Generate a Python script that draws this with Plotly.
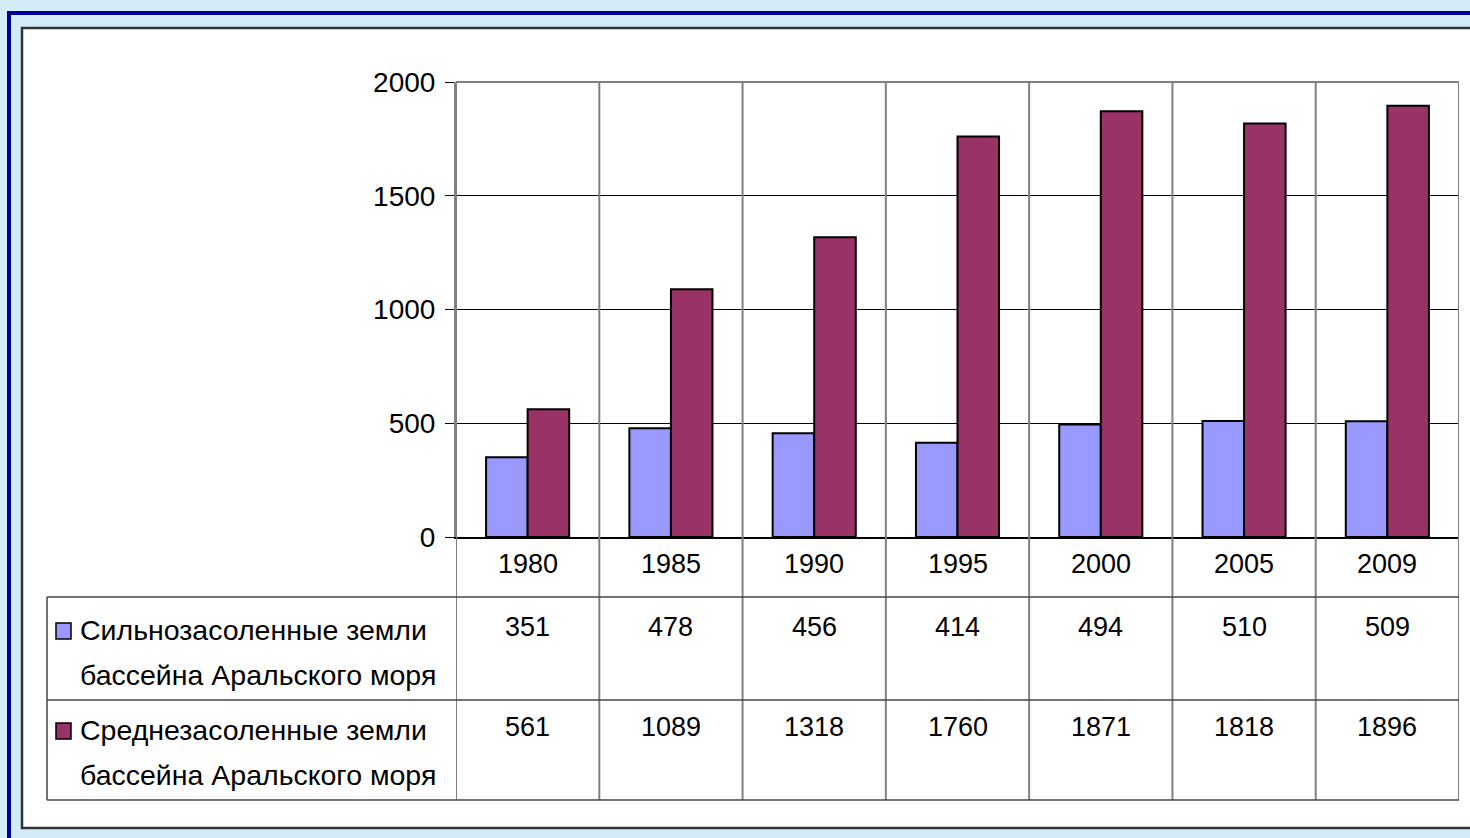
import plotly.graph_objects as go

# Salinised land in the Aral Sea basin, by year
years = ["1980", "1985", "1990", "1995", "2000", "2005", "2009"]
strong_saline = [351, 478, 456, 414, 494, 510, 509]
medium_saline = [561, 1089, 1318, 1760, 1871, 1818, 1896]
series_names = [
    ["Сильнозасоленные земли", "бассейна Аральского моря"],
    ["Среднезасоленные земли", "бассейна Аральского моря"],
]
series_colors = ["#9999FF", "#993366"]
y_ticks = [0, 500, 1000, 1500, 2000]

W, H = 1470, 838
FONT = "Liberation Sans, Arial, sans-serif"
FS_TICK = 28
FS_CELL = 27
FS_NAME = 28.5


def px(x):
    return x / W


def py(y):
    return 1 - y / H


# plot rectangle in pixels
PL, PR, PT, PB = 456, 1459, 82, 537
# data-table rows in pixels
ROW_YEAR_BOTTOM, ROW1_BOTTOM, ROW2_BOTTOM = 597, 700, 800
TABLE_LEFT = 47

fig = go.Figure()
for name, vals, col in zip(series_names, [strong_saline, medium_saline], series_colors):
    fig.add_trace(go.Bar(
        x=years, y=vals, name=" ".join(name),
        marker=dict(color=col, line=dict(color="black", width=2)),
        showlegend=False,
    ))

shapes = []
# slide backdrop: dark blue frame and white panel
shapes.append(dict(type="rect", xref="paper", yref="paper",
                   x0=px(9), x1=px(1520), y0=py(13), y1=py(900),
                   line=dict(color="#000099", width=4), fillcolor="rgba(0,0,0,0)", layer="below"))
shapes.append(dict(type="rect", xref="paper", yref="paper",
                   x0=px(22), x1=px(1500), y0=py(28), y1=py(828),
                   line=dict(color="#333333", width=2.5), fillcolor="white", layer="below"))

grey = "#808080"
# vertical category boundaries through plot and table
for i in range(len(years) + 1):
    shapes.append(dict(type="line", xref="x", yref="paper",
                       x0=i - 0.5, x1=i - 0.5, y0=py(PT), y1=py(ROW2_BOTTOM),
                       line=dict(color=grey, width=2)))
# top border of plot
shapes.append(dict(type="line", xref="paper", yref="paper",
                   x0=px(PL), x1=px(PR), y0=py(PT), y1=py(PT),
                   line=dict(color=grey, width=2)))
# table horizontal rules
for yy in (ROW_YEAR_BOTTOM, ROW1_BOTTOM, ROW2_BOTTOM):
    shapes.append(dict(type="line", xref="paper", yref="paper",
                       x0=px(TABLE_LEFT), x1=px(PR), y0=py(yy), y1=py(yy),
                       line=dict(color="#444444", width=1.5)))
# table left edge
shapes.append(dict(type="line", xref="paper", yref="paper",
                   x0=px(TABLE_LEFT), x1=px(TABLE_LEFT), y0=py(ROW_YEAR_BOTTOM), y1=py(ROW2_BOTTOM),
                   line=dict(color="#444444", width=1.5)))

annotations = []
# year row
for i, yr in enumerate(years):
    annotations.append(dict(x=i, y=py(564), xref="x", yref="paper", text=yr,
                            showarrow=False, font=dict(family=FONT, size=FS_CELL, color="black"),
                            xanchor="center", yanchor="middle"))
# value rows and legend keys
row_mid = [627, 727]
for k, (name, vals, col) in enumerate(zip(series_names, [strong_saline, medium_saline], series_colors)):
    yc = row_mid[k]
    for i, v in enumerate(vals):
        annotations.append(dict(x=i, y=py(yc), xref="x", yref="paper", text=str(v),
                                showarrow=False, font=dict(family=FONT, size=FS_CELL, color="black"),
                                xanchor="center", yanchor="middle"))
    for j, line in enumerate(name):
        annotations.append(dict(x=px(78), y=py(yc + 3 + j * 45), xref="paper", yref="paper", text=line,
                                showarrow=False, font=dict(family=FONT, size=FS_NAME, color="black"),
                                xanchor="left", yanchor="middle"))
    shapes.append(dict(type="rect", xref="paper", yref="paper",
                       x0=px(56), x1=px(71), y0=py(yc - 4), y1=py(yc + 12),
                       fillcolor=col, line=dict(color="black", width=1.5)))

fig.update_layout(
    width=W, height=H, autosize=False,
    margin=dict(l=0, r=0, t=0, b=0, pad=0, autoexpand=False),
    paper_bgcolor="#d4ecf8",
    plot_bgcolor="rgba(0,0,0,0)",
    barmode="group", bargap=0.42, bargroupgap=0,
    font=dict(family=FONT, size=FS_TICK, color="black"),
    shapes=shapes, annotations=annotations,
    xaxis=dict(domain=[px(PL), px(PR)], type="category", range=[-0.5, len(years) - 0.5],
               showticklabels=False, showgrid=False, zeroline=False, ticks="",
               automargin=False,
               showline=True, linecolor="black", linewidth=1.5),
    yaxis=dict(domain=[py(PB), py(PT)], range=[0, 2000], tickvals=y_ticks,
               ticks="outside", ticklen=9, tickcolor="black", tickwidth=1,
               showgrid=True, gridcolor="black", gridwidth=1, zeroline=False,
               automargin=False,
               showline=True, linecolor=grey, linewidth=2,
               tickfont=dict(family=FONT, size=FS_TICK, color="black"),
               ticklabelstandoff=4),
)

fig.write_html("out.html")
